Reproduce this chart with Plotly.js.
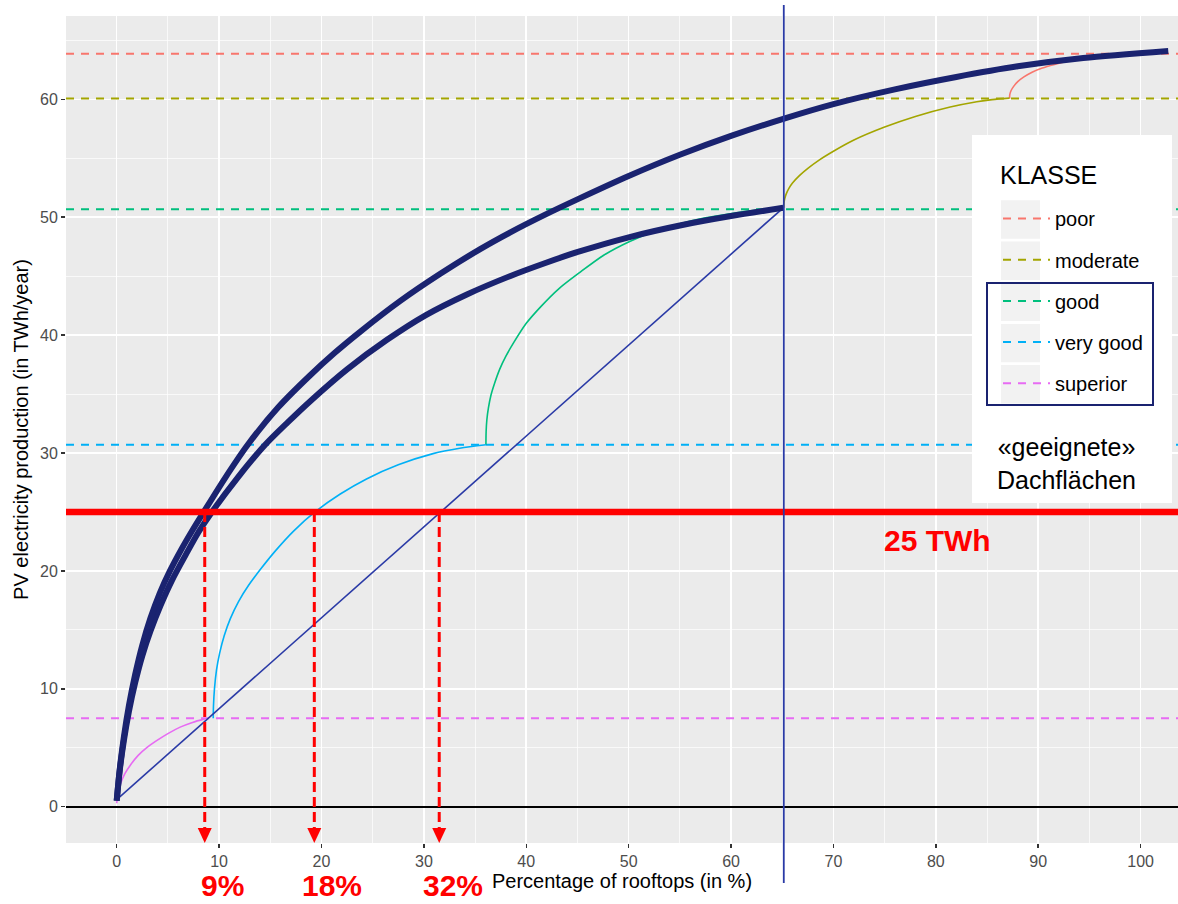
<!DOCTYPE html>
<html>
<head>
<meta charset="utf-8">
<script src="https://cdn.plot.ly/plotly-3.0.1.min.js"></script>
<style>html,body{margin:0;padding:0;background:#fff;}#chart{width:1178px;height:904px;}</style>
</head>
<body>
<div id="chart"></div>
<script>
// ---------------- data ----------------
const classNames  = ['poor', 'moderate', 'good', 'very good', 'superior'];
const classColors = ['#F8766D', '#A3A500', '#00BF7D', '#00B0F6', '#E76BF3'];
const classLevels = [63.87, 60.08, 50.67, 30.7, 7.5];   // TWh/year, dashed reference lines
const legendTitle = 'KLASSE';

// cumulative production curves per class (x: % rooftops, y: TWh/year)
const superiorX = [0, 0.15, 0.4, 0.8, 1.4, 2.1, 3.0, 3.9, 5.0, 6.2, 7.4, 8.6];
const superiorY = [0.29, 1.2, 2.0, 2.8, 3.6, 4.35, 5.05, 5.6, 6.2, 6.75, 7.15, 7.45];
const veryGoodX = [9.43, 9.45, 9.55, 9.75, 10.05, 10.5, 11.1, 11.9, 12.9, 14.1, 15.5, 17.3, 19.37, 21.8, 24.4, 27.5, 30.9, 33.5, 36.06];
const veryGoodY = [7.5, 8.5, 10.0, 11.6, 13.0, 14.5, 15.95, 17.4, 18.8, 20.2, 21.7, 23.4, 25.0, 26.5, 27.8, 29.0, 29.95, 30.4, 30.7];
const goodX = [36.06, 36.08, 36.15, 36.3, 36.55, 36.9, 37.4, 38.0, 38.8, 40.0, 41.4, 43.2, 45.2, 47.6, 50.1, 52.5, 55.0, 57.5, 59.9, 62.5, 65.1];
const goodY = [30.7, 31.8, 32.8, 33.8, 34.9, 35.9, 37.1, 38.2, 39.4, 41.0, 42.4, 43.95, 45.3, 46.8, 47.95, 48.8, 49.45, 49.95, 50.3, 50.6, 50.8];
const moderateX = [65.15, 65.17, 65.25, 65.4, 65.65, 66.0, 66.7, 67.5, 68.6, 70.0, 72.0, 75.0, 78.0, 81.4, 84.0, 85.5, 87.2];
const moderateY = [50.8, 51.2, 51.6, 52.0, 52.45, 52.9, 53.55, 54.15, 54.85, 55.6, 56.55, 57.65, 58.55, 59.35, 59.8, 59.98, 60.1];
const poorX = [87.2, 87.22, 87.35, 87.6, 88.0, 88.6, 89.4, 90.4, 91.6, 93.0, 94.4, 96.0, 97.7, 100.0, 102.6];
const poorY = [60.1, 60.4, 60.75, 61.1, 61.5, 61.9, 62.3, 62.65, 62.95, 63.25, 63.45, 63.65, 63.8, 63.9, 63.95];

// envelope curves (thick navy)
const upperX = [0, 0.3, 0.7, 1.2, 1.8, 2.5, 3.3, 4.2, 5.2, 6.3, 7.4, 8.5, 10.6, 12.8, 15.8, 18.9, 21.3, 23.8, 27.7, 31.6, 35.5, 38.4, 41.8, 45.2, 50.0, 55.0, 60.0, 65.1, 70.0, 76.0, 82.0, 88.0, 94.4, 102.7];
const upperY = [0.5, 3.2, 5.9, 8.6, 11.2, 13.7, 16.0, 18.1, 20.0, 21.8, 23.45, 25.0, 27.9, 30.7, 33.9, 36.6, 38.5, 40.3, 42.9, 45.2, 47.3, 48.7, 50.2, 51.6, 53.5, 55.3, 56.9, 58.35, 59.6, 60.85, 61.9, 62.8, 63.5, 64.1];
const lowerX = [0, 0.3, 0.7, 1.2, 1.8, 2.5, 3.3, 4.3, 5.4, 6.7, 8.0, 9.3, 11.8, 14.5, 16.7, 18.9, 22.5, 26.4, 30.2, 34.2, 38.4, 41.8, 45.2, 50.0, 55.0, 60.0, 65.1];
const lowerY = [0.5, 3.1, 5.6, 8.1, 10.5, 12.8, 14.9, 17.1, 19.2, 21.3, 23.3, 25.0, 27.9, 30.7, 32.6, 34.4, 37.1, 39.6, 41.7, 43.45, 45.0, 46.1, 47.1, 48.3, 49.3, 50.1, 50.8];

// straight line from origin to the end of the "suitable" roofs
const diagX = [0, 65.1];
const diagY = [0.6, 50.8];

const targetTWh = 25;                        // red horizontal line
const cutoffPct = 65.15;                     // vertical blue line
const arrowPct = [8.6, 19.3, 31.5];          // red dashed arrows
const arrowLabels = ['9%', '18%', '32%'];

const xTicks = [0, 10, 20, 30, 40, 50, 60, 70, 80, 90, 100];
const yTicks = [0, 10, 20, 30, 40, 50, 60];

// ---------------- layout helpers ----------------
const W = 1178, H = 904;
const PL = 66, PR = 1178, PT = 16, PB = 843;
const xRange = [-4.95, 103.65];
const yRange = [-3.08, 67.07];
const px2x = p => (p - PL) / (PR - PL);
const py2y = p => (PB - p) / (PB - PT);
const d2px = v => PL + (v - xRange[0]) / (xRange[1] - xRange[0]) * (PR - PL);
const pyToDataY = p => yRange[0] + (PB - p) / (PB - PT) * (yRange[1] - yRange[0]);

const FONT = 'Liberation Sans, Arial, sans-serif';
const NAVY = '#1a2370';
const LINEBLUE = '#2a3aa6';

const traces = [];

// dashed class levels (legend entries)
classNames.forEach((n, i) => {
  traces.push({
    type: 'scatter', mode: 'lines', name: n, legendgroup: n,
    x: [xRange[0], xRange[1]], y: [classLevels[i], classLevels[i]],
    line: {color: classColors[i], width: 2, dash: '8px,7px'},
    hoverinfo: 'skip'
  });
});

const curves = [[poorX, poorY], [moderateX, moderateY], [goodX, goodY], [veryGoodX, veryGoodY], [superiorX, superiorY]];
curves.forEach((c, i) => {
  traces.push({
    type: 'scatter', mode: 'lines', x: c[0], y: c[1], showlegend: false,
    line: {color: classColors[i], width: 1.6, shape: 'spline', smoothing: 0.8}, hoverinfo: 'skip'
  });
});

traces.push({type: 'scatter', mode: 'lines', x: diagX, y: diagY, showlegend: false,
  line: {color: LINEBLUE, width: 1.6}, hoverinfo: 'skip'});

traces.push({type: 'scatter', mode: 'lines', x: lowerX, y: lowerY, showlegend: false,
  line: {color: NAVY, width: 6, shape: 'spline', smoothing: 0.8}, hoverinfo: 'skip'});
traces.push({type: 'scatter', mode: 'lines', x: upperX, y: upperY, showlegend: false,
  line: {color: NAVY, width: 6, shape: 'spline', smoothing: 0.8}, hoverinfo: 'skip'});

traces.push({type: 'scatter', mode: 'lines', x: [xRange[0], xRange[1]], y: [targetTWh, targetTWh], showlegend: false,
  line: {color: '#FF0000', width: 6.5}, hoverinfo: 'skip'});

// red dashed arrow shafts
const shaftBottom = pyToDataY(829);
const ax = [], ay = [];
arrowPct.forEach(v => { ax.push(v, v, null); ay.push(targetTWh, shaftBottom, null); });
traces.push({type: 'scatter', mode: 'lines', x: ax, y: ay, showlegend: false,
  line: {color: '#FF0000', width: 3, dash: '10px,5px'}, hoverinfo: 'skip'});

// ---------------- shapes ----------------
const shapes = [];
const halfW = 7 * (xRange[1] - xRange[0]) / (PR - PL);
arrowPct.forEach(v => {
  const top = pyToDataY(828), tip = pyToDataY(843);
  shapes.push({type: 'path', xref: 'x', yref: 'y', layer: 'above',
    path: `M ${v - halfW},${top} L ${v + halfW},${top} L ${v},${tip} Z`,
    fillcolor: '#FF0000', line: {width: 0}});
});
shapes.push({type: 'line', xref: 'paper', yref: 'paper', layer: 'above',
  x0: px2x(d2px(cutoffPct)), x1: px2x(d2px(cutoffPct)), y0: py2y(883), y1: py2y(5),
  line: {color: LINEBLUE, width: 1.8}});
shapes.push({type: 'rect', xref: 'paper', yref: 'paper', layer: 'above',
  x0: px2x(972), x1: px2x(1172), y0: py2y(503), y1: py2y(135),
  fillcolor: '#FFFFFF', line: {width: 0}});
for (let i = 0; i < 5; i++) {
  const c = 219.5 + 41.2 * i;
  shapes.push({type: 'rect', xref: 'paper', yref: 'paper', layer: 'above',
    x0: px2x(1001), x1: px2x(1040), y0: py2y(c + 19.2), y1: py2y(c - 19.2),
    fillcolor: '#F2F2F2', line: {width: 0}});
}
shapes.push({type: 'rect', xref: 'paper', yref: 'paper', layer: 'above',
  x0: px2x(987), x1: px2x(1153), y0: py2y(405), y1: py2y(283),
  fillcolor: 'rgba(0,0,0,0)', line: {color: NAVY, width: 2}});

// ---------------- annotations ----------------
const labelPx = [222, 331.5, 453];
const annotations = arrowLabels.map((t, i) => ({
  xref: 'paper', yref: 'paper', x: px2x(labelPx[i]), y: py2y(904), text: t, showarrow: false,
  xanchor: 'center', yanchor: 'bottom', font: {family: FONT, size: 30, color: '#FF0000', weight: 'bold'}
}));
annotations.push({xref: 'paper', yref: 'paper', x: px2x(937), y: py2y(540), text: targetTWh + ' TWh',
  showarrow: false, xanchor: 'center', yanchor: 'middle',
  font: {family: FONT, size: 30, color: '#FF0000', weight: 'bold'}});
annotations.push({xref: 'paper', yref: 'paper', x: px2x(998), y: py2y(175), text: legendTitle,
  showarrow: false, xanchor: 'left', yanchor: 'middle', font: {family: FONT, size: 25, color: '#000000'}});
annotations.push({xref: 'paper', yref: 'paper', x: px2x(1066), y: py2y(463), text: '«geeignete»<br>Dachflächen',
  showarrow: false, xanchor: 'center', yanchor: 'middle', font: {family: FONT, size: 25, color: '#000000'}});

const layout = {
  width: W, height: H,
  margin: {l: PL, r: W - PR, t: PT, b: H - PB, pad: 0},
  paper_bgcolor: '#FFFFFF', plot_bgcolor: '#EBEBEB',
  font: {family: FONT},
  showlegend: true,
  legend: {
    x: px2x(998), y: py2y(199), xanchor: 'left', yanchor: 'top',
    bgcolor: 'rgba(0,0,0,0)', borderwidth: 0,
    font: {family: FONT, size: 20, color: '#000000'},
    tracegroupgap: 12.2, itemwidth: 47, traceorder: 'grouped'
  },
  xaxis: {
    range: xRange, tickvals: xTicks, ticktext: xTicks.map(String),
    showgrid: true, gridcolor: '#FFFFFF', gridwidth: 1.6, zeroline: false, showline: false,
    minor: {dtick: 5, tick0: 0, showgrid: true, gridcolor: '#FFFFFF', gridwidth: 0.7},
    ticks: 'outside', ticklen: 4, tickwidth: 1.5, tickcolor: '#333333',
    tickfont: {family: FONT, size: 16, color: '#4D4D4D'},
    title: {text: 'Percentage of rooftops (in %)', font: {family: FONT, size: 20, color: '#000000'}, standoff: 4}
  },
  yaxis: {
    range: yRange, tickvals: yTicks, ticktext: yTicks.map(String),
    showgrid: true, gridcolor: '#FFFFFF', gridwidth: 1.6,
    zeroline: true, zerolinecolor: '#000000', zerolinewidth: 2, showline: false,
    minor: {dtick: 5, tick0: 0, showgrid: true, gridcolor: '#FFFFFF', gridwidth: 0.7},
    ticks: 'outside', ticklen: 4, tickwidth: 1.5, tickcolor: '#333333',
    tickfont: {family: FONT, size: 16, color: '#4D4D4D'},
    title: {text: 'PV electricity production (in TWh/year)', font: {family: FONT, size: 20, color: '#000000'}, standoff: 6}
  },
  shapes: shapes,
  annotations: annotations
};

Plotly.newPlot('chart', traces, layout, {displayModeBar: false, staticPlot: true});
</script>
</body>
</html>
